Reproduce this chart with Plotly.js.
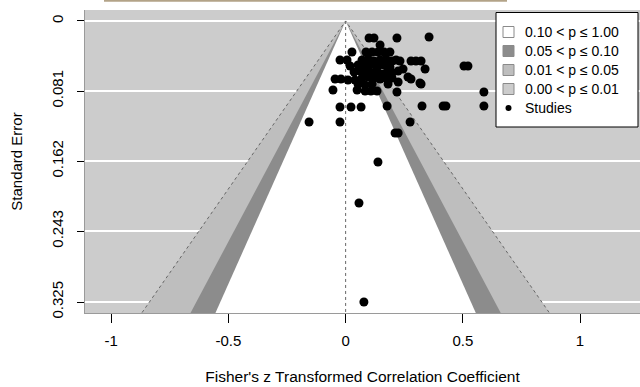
<!DOCTYPE html>
<html>
<head>
<meta charset="utf-8">
<script src="https://cdn.plot.ly/plotly-3.0.1.min.js"></script>
<style>html,body{margin:0;padding:0;background:#fff;}#chart{width:640px;height:387px;}</style>
</head>
<body>
<div id="chart"></div>
<script>
// ---- Data: study estimates (Fisher's z) and standard errors ----
const studyZ = [
  0.100, 0.121, 0.219, 0.356,
  0.147,
  0.027, 0.087, 0.113, 0.138, 0.164, 0.189,
  -0.024, 0.006, 0.070, 0.096, 0.121, 0.147, 0.172, 0.198, 0.215, 0.232, 0.279, 0.300, 0.322,
  0.019, 0.053, 0.087, 0.113, 0.138, 0.164, 0.189, 0.245, 0.339, 0.505, 0.522,
  0.036, 0.061, 0.078, 0.104, 0.130, 0.151, 0.177, 0.198, 0.224,
  -0.045, -0.020, 0.010, 0.040, 0.070, 0.096, 0.121, 0.147, 0.172, 0.198, 0.224, 0.266, 0.279, 0.317, 0.053, 0.083, 0.113, 0.181,
  -0.054, 0.049, 0.083, 0.108, 0.134, 0.219, 0.322, 0.590,
  -0.024, 0.023, 0.066, 0.177, 0.326, 0.416, 0.428, 0.590,
  -0.156, -0.024, 0.275,
  0.211, 0.224,
  0.138, 0.057, 0.078
];
const studySE = [
  0.0197, 0.0197, 0.0197, 0.0185,
  0.0278,
  0.0359, 0.0359, 0.0359, 0.0359, 0.0359, 0.0359,
  0.0451, 0.0451, 0.0451, 0.0440, 0.0463, 0.0451, 0.0440, 0.0463, 0.0451, 0.0463, 0.0463, 0.0463, 0.0463,
  0.0520, 0.0509, 0.0520, 0.0497, 0.0520, 0.0509, 0.0532, 0.0555, 0.0555, 0.0520, 0.0520,
  0.0590, 0.0578, 0.0601, 0.0590, 0.0578, 0.0613, 0.0590, 0.0601, 0.0578,
  0.0671, 0.0671, 0.0682, 0.0682, 0.0659, 0.0648, 0.0659, 0.0671, 0.0659, 0.0659, 0.0706, 0.0648, 0.0671, 0.0717, 0.0729, 0.0740, 0.0729, 0.0729,
  0.0798, 0.0798, 0.0810, 0.0810, 0.0810, 0.0821, 0.0729, 0.0821,
  0.0995, 0.0995, 0.0995, 0.0983, 0.0983, 0.0983, 0.0983, 0.0983,
  0.1168, 0.1168, 0.1168,
  0.1295, 0.1295,
  0.1631, 0.2105, 0.3250
];

// Contour critical values (two-sided p = 0.10, 0.05, 0.01)
const contourZ = [1.6449, 1.9600, 2.5758];
const legendLabels = ["0.10 < p \u2264 1.00", "0.05 < p \u2264 0.10", "0.01 < p \u2264 0.05", "0.00 < p \u2264 0.01", "Studies"];
const xTickVals = [-1, -0.5, 0, 0.5, 1];
const xTickText = ["-1", "-0.5", "0", "0.5", "1"];
const yTickVals = [0, 0.081, 0.162, 0.243, 0.325];
const yTickText = ["0", "0.081", "0.162", "0.243", "0.325"];

// ---- Styling ----
const colInner = "#ffffff";
const colP10 = "#8c8c8c";
const colP05 = "#bebebe";
const colBack = "#cccccc";
const FONT = "Arial, 'Liberation Sans', sans-serif";

const seMax = 0.36; // extends past axis bottom; clipped by plot area
function funnel(z, fill) {
  return {
    type: "scatter", mode: "lines",
    x: [-z * seMax, 0, z * seMax, -z * seMax],
    y: [seMax, 0, seMax, seMax],
    fill: "toself", fillcolor: fill,
    line: {width: 0, color: fill},
    hoverinfo: "skip", showlegend: false
  };
}

const traces = [
  funnel(contourZ[2], colP05),
  funnel(contourZ[1], colP10),
  funnel(contourZ[0], colInner),
  {
    type: "scatter", mode: "lines",
    x: [-contourZ[2] * seMax, 0, contourZ[2] * seMax],
    y: [seMax, 0, seMax],
    line: {color: "#666666", width: 1, dash: "dot"},
    hoverinfo: "skip", showlegend: false
  },
  {
    type: "scatter", mode: "lines",
    x: [0, 0], y: [0, seMax],
    line: {color: "#666666", width: 1, dash: "dot"},
    hoverinfo: "skip", showlegend: false
  },
  {
    type: "scatter", mode: "markers",
    x: studyZ, y: studySE,
    marker: {color: "#000000", size: 9, line: {width: 0}},
    showlegend: false
  }
];

// pixel helpers for manual legend (plot area: x 85..640, y 10..313)
const PL = 85, PR = 640, PT = 10, PB = 313;
const px = v => (v - PL) / (PR - PL);
const py = v => (PB - v) / (PB - PT);

const shapes = [
  // thin tan line at very top of the picture
  {type: "line", xref: "paper", yref: "paper", x0: px(104), x1: px(507), y0: py(0.8), y1: py(0.8),
   line: {color: "#b3a388", width: 2}},
  // legend box
  {type: "rect", xref: "paper", yref: "paper", x0: px(496), x1: px(638), y0: py(127), y1: py(12.5),
   fillcolor: "#ffffff", line: {color: "#000000", width: 1}}
];
const annotations = [];
const rowsY = [32, 51, 70, 89, 108];
const swatchCols = [colInner, colP10, colP05, colBack];
swatchCols.forEach((c, i) => {
  shapes.push({type: "rect", xref: "paper", yref: "paper",
    x0: px(503), x1: px(514), y0: py(rowsY[i] + 5.5), y1: py(rowsY[i] - 5.5),
    fillcolor: c, line: {color: "#8a8a8a", width: 1}});
});
shapes.push({type: "circle", xref: "paper", yref: "paper",
  x0: px(505.5), x1: px(511.5), y0: py(rowsY[4] + 3), y1: py(rowsY[4] - 3),
  fillcolor: "#000000", line: {width: 0}});
legendLabels.forEach((t, i) => {
  annotations.push({xref: "paper", yref: "paper", x: px(523), y: py(rowsY[i]),
    xanchor: "left", yanchor: "middle", text: t, showarrow: false,
    font: {family: FONT, size: 14, color: "#000"}});
});

const layout = {
  width: 640, height: 387,
  margin: {l: PL, r: 640 - PR, t: PT, b: 387 - PB},
  paper_bgcolor: "#ffffff",
  plot_bgcolor: colBack,
  font: {family: FONT, size: 15, color: "#000"},
  showlegend: false,
  xaxis: {
    range: [-1.112, 1.256],
    tickvals: xTickVals, ticktext: xTickText,
    showgrid: false, zeroline: false,
    showline: true, linecolor: "#9a9a9a", linewidth: 1,
    ticks: "outside", ticklen: 9, tickcolor: "#000", tickwidth: 1,
    ticklabelstandoff: 5,
    tickfont: {family: FONT, size: 15, color: "#000"},
    title: {text: "Fisher's z Transformed Correlation Coefficient", font: {family: FONT, size: 15.5, color: "#000"}, standoff: 23}
  },
  yaxis: {
    range: [0.3377, -0.0127],
    tickvals: yTickVals, ticktext: yTickText,
    tickangle: -90,
    showgrid: true, gridcolor: "#ffffff", gridwidth: 1.5,
    zeroline: false,
    showline: true, linecolor: "#9a9a9a", linewidth: 1,
    ticks: "outside", ticklen: 7, tickcolor: "#000", tickwidth: 1,
    ticklabelstandoff: 8,
    tickfont: {family: FONT, size: 15, color: "#000"},
    title: {text: "Standard Error", font: {family: FONT, size: 15, color: "#000"}, standoff: 22}
  },
  shapes: shapes,
  annotations: annotations
};

Plotly.newPlot("chart", traces, layout, {displayModeBar: false, staticPlot: true});
</script>
</body>
</html>
